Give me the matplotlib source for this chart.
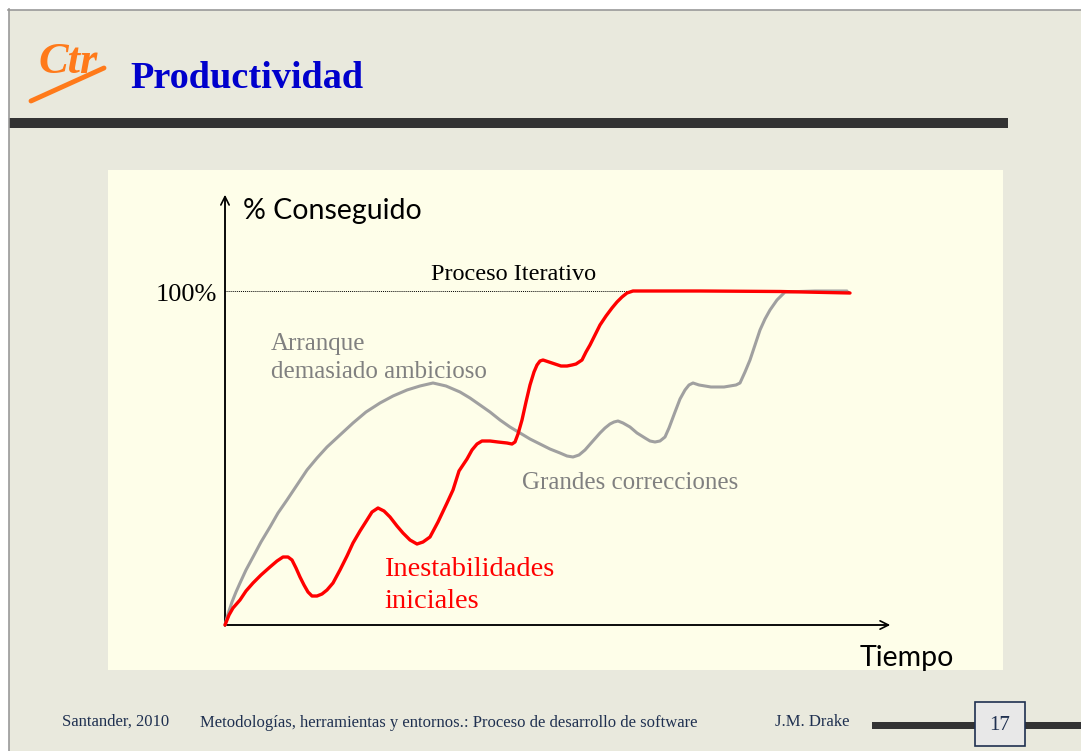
import matplotlib
matplotlib.use('Agg')
import matplotlib.pyplot as plt
from matplotlib.patches import Rectangle

# datos (tiempo 0-100, % conseguido 0-100)
t_iter = [0, 0.64, 1.28, 2.4, 3.36, 4.48, 5.76, 7.2, 8.32, 9.28, 10.08, 10.72, 11.36, 12.0,
          12.64, 13.28, 13.92, 14.72, 15.52, 16.32, 17.28, 18.4, 19.52, 20.48, 21.6, 22.72,
          23.52, 24.48, 25.44, 26.4, 27.52, 28.48, 29.6, 30.72, 31.68, 32.8, 34.08, 35.52,
          36.48, 37.44, 38.72, 39.52, 40.32, 41.12, 42.4, 43.68, 45.12, 45.92,
          46.4, 46.88, 47.52, 48.16, 48.8, 49.44, 49.92, 50.4, 50.88, 51.84, 52.8, 53.76,
          54.72, 55.52, 56.16, 56.64, 57.12, 57.76, 58.4, 59.2, 60.0, 60.96, 61.92, 62.72,
          63.52, 64.32, 65.28, 76.0, 88.8, 100.0]
p_iter = [0, 2.99, 5.09, 7.49, 10.18, 12.57, 14.97, 17.37, 19.16, 20.36, 20.36, 19.46, 17.07,
          14.37, 11.98, 9.88, 8.68, 8.68, 9.28, 10.48, 12.57, 16.47, 20.66, 24.55, 28.14,
          31.44, 33.83, 35.03, 34.13, 32.34, 29.64, 27.54, 25.45, 24.25, 24.85, 26.35, 30.84,
          36.53, 40.42, 46.11, 49.70, 52.40, 54.19, 55.09, 55.09, 54.79,
          54.49, 54.19, 54.79, 57.19, 61.38, 66.77, 71.86, 75.75, 77.84, 79.04, 79.34, 78.74,
          78.14, 77.54, 77.54, 77.84, 78.14, 78.74, 79.34, 81.74, 83.83, 86.83, 89.82, 92.51,
          94.91, 96.71, 98.20, 99.40, 100.0, 100.0, 99.85, 99.4]

t_ambic = [0, 0.48, 1.12, 1.76, 2.4, 3.36, 4.48, 5.76, 7.2, 8.48, 9.92, 11.52, 13.12, 14.72,
           16.32, 18.4, 20.48, 22.56, 24.8, 26.88, 29.12, 31.2, 33.28, 35.36, 37.6, 39.2, 40.8,
           42.4, 44.0, 45.6,
           47.2, 48.8, 50.4, 52.0, 53.6, 54.72, 55.68, 56.64, 57.6, 58.72, 60.0, 60.8, 61.6,
           62.24, 62.88, 63.68, 64.8, 65.92, 67.2, 68.0, 68.8, 69.6, 70.4, 71.04, 72.0, 72.8,
           73.6, 74.24, 74.88, 75.84, 76.8, 77.76, 78.72, 79.84, 80.8, 81.76, 82.4, 83.2,
           84.0, 84.8, 85.6, 86.4, 87.2, 88.32, 89.6, 94.4, 99.52]
p_ambic = [0, 3.29, 6.89, 9.88, 12.57, 16.47, 20.36, 24.85, 29.34, 33.53, 37.43, 41.92,
           46.41, 50.0, 53.29, 56.89, 60.48, 63.77, 66.47, 68.56, 70.36, 71.56, 72.46, 71.56,
           69.76, 67.96, 65.87,
           63.77, 61.38, 59.28, 57.49, 55.69, 54.19, 52.69, 51.50, 50.60, 50.30, 50.90,
           52.40, 54.79, 57.49, 58.98, 60.18, 60.78, 61.08, 60.48, 59.28, 57.49, 55.99, 55.09,
           54.79, 55.09, 56.29, 58.98, 63.77, 67.66, 70.36, 71.86, 72.46, 71.86, 71.56, 71.26,
           71.26, 71.26, 71.56, 71.86, 72.46, 75.75, 79.34, 83.83, 88.32, 91.62, 94.31, 97.31,
           99.70, 100.0, 100.0]

W, H = 1081, 751
fig = plt.figure(figsize=(W / 100, H / 100), dpi=100)
fig.patch.set_facecolor('white')

# capa de la diapositiva en pixeles
bg = fig.add_axes([0, 0, 1, 1])
bg.set_xlim(0, W)
bg.set_ylim(H, 0)
bg.axis('off')

bg.add_patch(Rectangle((9, 10), W, H, facecolor='#e9e9dd', edgecolor='none'))
bg.plot([8, W], [9.5, 9.5], color='#999999', lw=1.2)
bg.plot([8.5, 8.5], [9, H], color='#999999', lw=1.2)

serif = 'Liberation Serif'

# logo y titulo
bg.text(68, 62, 'Ctr', fontsize=32, color='#ff7a1a', style='italic', fontweight='bold',
        family=serif, ha='center', va='center')
bg.plot([31, 104], [101, 68], color='#ff7a1a', lw=3.5, solid_capstyle='round')
bg.text(130, 78, 'Productividad', fontsize=27.5, color='#0000cc', fontweight='bold',
        family=serif, ha='left', va='center')
bg.add_patch(Rectangle((9, 118), 999, 10, facecolor='#333333', edgecolor='none'))

# zona del grafico
bg.add_patch(Rectangle((108, 170), 895, 500, facecolor='#fefee9', edgecolor='none'))

# pie
navy = '#1f3050'
bg.text(62, 722, 'Santander, 2010', fontsize=12, color=navy, family=serif,
        ha='left', va='center')
bg.text(200, 723, 'Metodologías, herramientas y entornos.: Proceso de desarrollo de software',
        fontsize=12, color=navy, family=serif, ha='left', va='center')
bg.text(775, 722, 'J.M. Drake', fontsize=12, color=navy, family=serif,
        ha='left', va='center')
bg.add_patch(Rectangle((872, 722), W - 872, 7, facecolor='#333333', edgecolor='none'))
bg.add_patch(Rectangle((975, 702), 50, 44, facecolor='#e8e8e8', edgecolor=navy, lw=1.2))
bg.text(1000, 726, '17', fontsize=15, color=navy, family=serif,
        ha='center', va='center')

# ejes del grafico con flechas
axc = '#555555'
bg.annotate('', xy=(225, 192), xytext=(225, 626),
            arrowprops=dict(arrowstyle='->', color='black', lw=1.2, mutation_scale=15))
bg.annotate('', xy=(893, 625), xytext=(224, 625),
            arrowprops=dict(arrowstyle='->', color='black', lw=1.2, mutation_scale=15))
bg.plot([225, 225], [200, 626], color=axc, lw=1.3)
bg.plot([225, 885], [625, 625], color=axc, lw=1.3)

bg.text(243, 211, '% Conseguido', fontsize=20.5, color='black', family='Lato',
        ha='left', va='center')
bg.text(860, 658, 'Tiempo', fontsize=20.5, color='black', family='Lato',
        ha='left', va='center')

# curvas
ax = fig.add_axes([225 / W, (H - 625) / H, 625 / W, 334 / H])
ax.set_xlim(0, 100)
ax.set_ylim(0, 100)
ax.axis('off')
ax.axhline(100, xmin=0, xmax=1, color='black', lw=0.7, ls=(0, (1, 1)))
ax.plot(t_ambic, p_ambic, color='#a0a0a0', lw=2.2, clip_on=False,
        solid_joinstyle='round', solid_capstyle='round')
ax.plot(t_iter, p_iter, color='#ff0000', lw=2.4, clip_on=False,
        solid_joinstyle='round', solid_capstyle='round')

bg.text(217, 295, '100%', fontsize=19, color='black', family=serif, ha='right', va='center')
bg.text(514, 274, 'Proceso Iterativo', fontsize=17.5, color='black', family=serif,
        ha='center', va='center')
bg.text(271, 344, 'Arranque', fontsize=18, color='#808080', family=serif,
        ha='left', va='center')
bg.text(271, 372, 'demasiado ambicioso', fontsize=18, color='#808080', family=serif,
        ha='left', va='center')
bg.text(522, 483, 'Grandes correcciones', fontsize=18, color='#808080', family=serif,
        ha='left', va='center')
bg.text(384, 570, 'Inestabilidades', fontsize=20.5, color='#ff0000', family=serif,
        ha='left', va='center')
bg.text(384, 601, 'iniciales', fontsize=20.5, color='#ff0000', family=serif,
        ha='left', va='center')

fig.savefig('out.png', dpi=100)
